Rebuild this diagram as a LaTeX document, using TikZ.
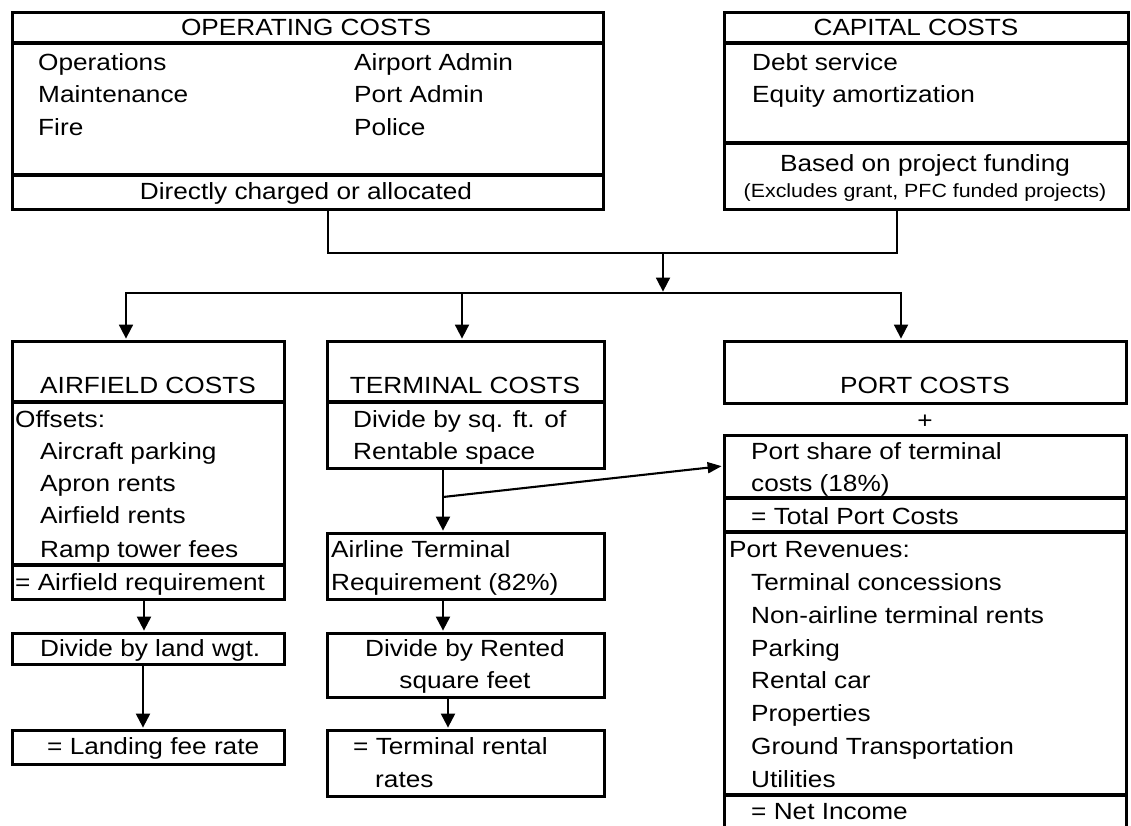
\documentclass[tikz,border=0pt]{standalone}
\usepackage{fontspec}
\setmainfont{Liberation Sans}[FakeStretch=1.12]
\usetikzlibrary{arrows.meta}
\begin{document}
\begin{tikzpicture}[x=1pt,y=-1pt,
  box/.style={draw, line width=3.2pt, rectangle, inner sep=0pt, anchor=north west},
  rule/.style={line width=3.2pt},
  txt/.style={inner sep=0pt, anchor=base west, font=\fontsize{23.4}{28}\selectfont},
  ctxt/.style={txt, anchor=base},
  smalltxt/.style={inner sep=0pt, anchor=base, font=\fontsize{19.1}{23}\selectfont},
  feed/.style={line width=1.5pt},
  flow/.style={line width=2.1pt, shorten >=1.4pt, -{Triangle[width=14pt,length=14pt]}},
  sideflow/.style={line width=2.1pt, shorten >=1.4pt, -{Triangle[width=11pt,length=14pt]}}
]
\fill[white] (0,0) rectangle (1131,825);
\clip (0,0) rectangle (1131,825);

% ---- top row: cost pools ----
\node[box, minimum width=591pt, minimum height=197pt] (op) at (11,11) {};
\draw[rule] (op.west |- 0,43) -- (op.east |- 0,43);
\draw[rule] (op.west |- 0,175) -- (op.east |- 0,175);
\node[ctxt] (opT) at (306,35) {OPERATING COSTS};
\node[txt] (op1) at (38,70) {Operations};
\node[txt] (op2) at (38,102) {Maintenance};
\node[txt] (op3) at (38,135) {Fire};
\node[txt] (op4) at (354,70) {Airport Admin};
\node[txt] (op5) at (354,102) {Port Admin};
\node[txt] (op6) at (354,135) {Police};
\node[ctxt] (opB) at (306,199) {Directly charged or allocated};

\node[box, minimum width=404pt, minimum height=197pt] (cap) at (723,11) {};
\draw[rule] (cap.west |- 0,43) -- (cap.east |- 0,43);
\draw[rule] (cap.west |- 0,143) -- (cap.east |- 0,143);
\node[ctxt] (capT) at (916,35) {CAPITAL COSTS};
\node[txt] (cap1) at (752,70) {Debt service};
\node[txt] (cap2) at (752,102) {Equity amortization};
\node[ctxt] (capB) at (925,171) {Based on project funding};
\node[smalltxt] (capN) at (925,197) {(Excludes grant, PFC funded projects)};

% ---- airfield column ----
\node[box, minimum width=272pt, minimum height=258pt] (af) at (11,340) {};
\draw[rule] (af.west |- 0,402) -- (af.east |- 0,402);
\draw[rule] (af.west |- 0,565) -- (af.east |- 0,565);
\node[ctxt] (afT) at (148,393) {AIRFIELD COSTS};
\node[txt] (af0) at (15,427) {Offsets:};
\node[txt] (af1) at (40,459) {Aircraft parking};
\node[txt] (af2) at (40,491) {Apron rents};
\node[txt] (af3) at (40,523) {Airfield rents};
\node[txt] (af4) at (40,557) {Ramp tower fees};
\node[txt] (afR) at (15,590) {= Airfield requirement};

\node[box, minimum width=272pt, minimum height=31pt] (adiv) at (11,632) {};
\node[txt] (adivT) at (40,656) {Divide by land wgt.};
\node[box, minimum width=272pt, minimum height=34pt] (land) at (11,729) {};
\node[txt] (landT) at (47,754) {= Landing fee rate};

% ---- terminal column ----
\node[box, minimum width=277pt, minimum height=127pt] (tm) at (326,340) {};
\draw[rule] (tm.west |- 0,402) -- (tm.east |- 0,402);
\node[ctxt] (tmT) at (465,393) {TERMINAL COSTS};
\node[txt] (tm1) at (353,427) {Divide by sq. ft. of};
\node[txt] (tm2) at (353,459) {Rentable space};

\node[box, minimum width=277pt, minimum height=66pt] (air) at (326,532) {};
\node[txt] (air1) at (331,557) {Airline Terminal};
\node[txt] (air2) at (331,590) {Requirement (82\%)};

\node[box, minimum width=277pt, minimum height=64pt] (tdiv) at (326,632) {};
\node[ctxt] (tdiv1) at (465,656) {Divide by Rented};
\node[ctxt] (tdiv2) at (465,688) {square feet};

\node[box, minimum width=277pt, minimum height=66pt] (rent) at (326,729) {};
\node[txt] (rent1) at (353,754) {= Terminal rental};
\node[txt] (rent2) at (375,787) {rates};

% ---- port column ----
\node[box, minimum width=402pt, minimum height=62pt] (port) at (723,340) {};
\node[ctxt] (portT) at (925,393) {PORT COSTS};
\node[ctxt] (plus) at (925,428) {+};

\node[box, minimum width=402pt, minimum height=420pt] (prev) at (723,434) {};
\draw[rule] (prev.west |- 0,498) -- (prev.east |- 0,498);
\draw[rule] (prev.west |- 0,532) -- (prev.east |- 0,532);
\draw[rule] (prev.west |- 0,795) -- (prev.east |- 0,795);
\node[txt] (pv1) at (751,459) {Port share of terminal};
\node[txt] (pv2) at (751,491) {costs (18\%)};
\node[txt] (pv3) at (751,524) {= Total Port Costs};
\node[txt] (pv4) at (729,557) {Port Revenues:};
\node[txt] (pv5) at (751,590) {Terminal concessions};
\node[txt] (pv6) at (751,623) {Non-airline terminal rents};
\node[txt] (pv7) at (751,656) {Parking};
\node[txt] (pv8) at (751,688) {Rental car};
\node[txt] (pv9) at (751,721) {Properties};
\node[txt] (pv10) at (751,754) {Ground Transportation};
\node[txt] (pv11) at (751,787) {Utilities};
\node[txt] (pv12) at (751,819) {= Net Income};

% ---- connectors ----
\coordinate (join) at (663,253);
\coordinate (split) at (663,293);
\draw[feed] (op.south -| 328,0) |- (join);
\draw[feed] (cap.south -| 897,0) |- (join);
\draw[flow, line width=1.8pt] (join) -- (split);
\draw[flow, line width=1.8pt] (split) -| (af.north -| 126,0);
\draw[flow, line width=1.8pt] (split) -| (tm.north -| 462,0);
\draw[flow, line width=1.8pt] (split) -| (port.north -| 901,0);

\draw[flow] (af.south -| 144,0) -- (adiv.north -| 144,0);
\draw[flow] (adiv.south -| 143,0) -- (land.north -| 143,0);
\draw[flow] (tm.south -| 443,0) -- (air.north -| 443,0);
\coordinate (branch) at (443,497);
\draw[sideflow] (branch) -- (prev.west |- 0,466);
\draw[flow] (air.south -| 443,0) -- (tdiv.north -| 443,0);
\draw[flow] (tdiv.south -| 448,0) -- (rent.north -| 448,0);
\end{tikzpicture}
\end{document}
